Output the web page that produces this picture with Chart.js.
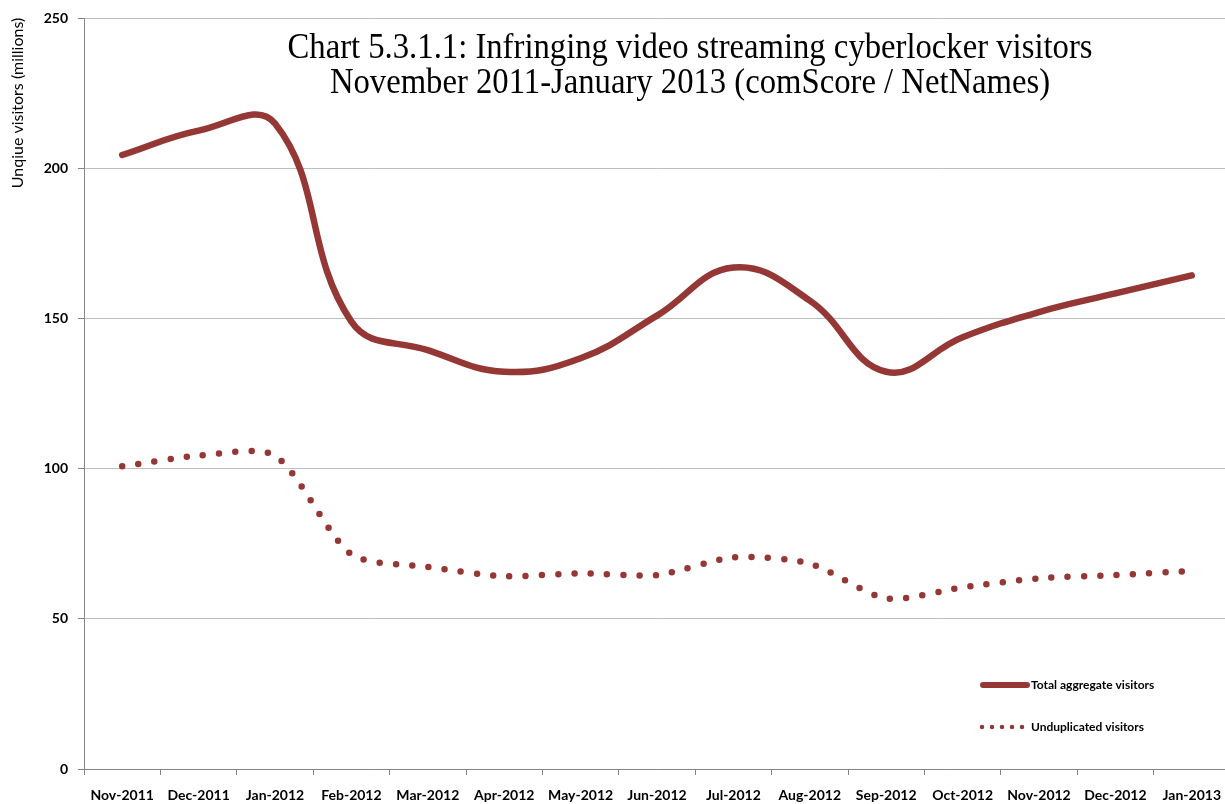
<!DOCTYPE html>
<html lang="en">
<head>
  <meta charset="UTF-8" />
  <title>Cyberlocker visitors</title>
  <script src="https://cdn.jsdelivr.net/npm/chart.js"></script>
  <style>
    html, body {
      margin: 0;
      padding: 0;
      background: #fff;
      overflow: hidden;
    }
    /* plot runs a few px past the right edge, as in the cropped original */
    #chartBox {
      width: 1225px;
      height: 804px;
      overflow: hidden;
    }
  </style>
</head>
<body>
  <div id="chartBox">
    <canvas id="visitorsChart" width="1230" height="804"></canvas>
  </div>

  <script>
    // data (millions)
    const months = ['Nov-2011', 'Dec-2011', 'Jan-2012', 'Feb-2012', 'Mar-2012', 'Apr-2012', 'May-2012',
      'Jun-2012', 'Jul-2012', 'Aug-2012', 'Sep-2012', 'Oct-2012', 'Nov-2012', 'Dec-2012', 'Jan-2013'];
    const totalVisitors = [204.5, 212.6, 215, 149, 139.5, 132.3, 136.8, 151, 167, 156, 132.3, 143.8, 152.2, 158.4, 164.4];
    const uniqueVisitors = [100.8, 104.4, 104.4, 71.5, 67.3, 64.2, 65.2, 64.6, 70.5, 68.4, 56.8, 60.5, 63.5, 64.6, 66];
    const seriesNames = ['Total aggregate visitors', 'Unduplicated visitors'];
    const yTicks = [0, 50, 100, 150, 200, 250];

    const titleLines = ['Chart 5.3.1.1: Infringing video streaming cyberlocker visitors',
      'November 2011-January 2013 (comScore / NetNames)'];
    const yTitle = 'Unqiue visitors (millions)';

    const lineColor = '#953735';

    // title, y title and legend are drawn by hand, like the Excel original
    const extrasPlugin = {
      id: 'extras',
      afterDraw(chart) {
        const ctx = chart.ctx;
        ctx.save();

        // title, condensed serif
        ctx.fillStyle = '#000';
        ctx.font = '36px "Liberation Serif"';
        ctx.textAlign = 'center';
        ctx.textBaseline = 'alphabetic';
        const w = ctx.measureText(titleLines[0]).width;
        const sx = 805 / w;
        ctx.save();
        ctx.translate(690, 0);
        ctx.scale(sx, 1);
        ctx.fillText(titleLines[0], 0, 58);
        ctx.fillText(titleLines[1], 0, 93);
        ctx.restore();

        // y axis title
        ctx.save();
        ctx.translate(18, 103);
        ctx.rotate(-Math.PI / 2);
        ctx.font = '16px Lato';
        ctx.textAlign = 'center';
        ctx.textBaseline = 'middle';
        ctx.fillText(yTitle, 0, 0);
        ctx.restore();

        // legend
        ctx.strokeStyle = lineColor;
        ctx.lineCap = 'round';
        ctx.lineWidth = 6;
        ctx.beginPath();
        ctx.moveTo(983, 685);
        ctx.lineTo(1027, 685);
        ctx.stroke();

        ctx.lineWidth = 4.5;
        ctx.setLineDash([0, 10]);
        ctx.beginPath();
        ctx.moveTo(982, 727);
        ctx.lineTo(1023, 727);
        ctx.stroke();
        ctx.setLineDash([]);

        ctx.font = 'bold 12px Lato';
        ctx.textAlign = 'left';
        ctx.textBaseline = 'middle';
        ctx.fillText(seriesNames[0], 1031, 685);
        ctx.fillText(seriesNames[1], 1031, 727);

        ctx.restore();
      }
    };

    const ctx = document.getElementById('visitorsChart').getContext('2d');
    new Chart(ctx, {
      type: 'line',
      data: {
        labels: months,
        datasets: [
          {
            label: seriesNames[0],
            data: totalVisitors,
            borderColor: lineColor,
            borderWidth: 6.5,
            borderCapStyle: 'round',
            borderJoinStyle: 'round',
            tension: 0.42,
            pointRadius: 0,
            fill: false
          },
          {
            label: seriesNames[1],
            data: uniqueVisitors,
            borderColor: lineColor,
            borderWidth: 6.5,
            borderCapStyle: 'round',
            borderDash: [0, 16.3],
            tension: 0.25,
            pointRadius: 0,
            fill: false
          }
        ]
      },
      options: {
        responsive: false,
        animation: false,
        layout: { padding: { top: 18, right: 0, left: 0, bottom: 0 } },
        plugins: {
          legend: { display: false },
          title: { display: false },
          tooltip: { enabled: false }
        },
        scales: {
          x: {
            offset: true,
            grid: {
              offset: true,
              drawOnChartArea: false,
              drawTicks: true,
              tickLength: 6,
              tickColor: '#868686'
            },
            border: { color: '#868686', width: 1 },
            ticks: {
              autoSkip: false,
              maxRotation: 0,
              padding: 12,
              color: '#000',
              font: { family: 'Lato', size: 14, weight: 'bold' }
            },
            afterFit(scale) {
              scale.height = 35;
              scale.paddingLeft = 0;
              scale.paddingRight = 0;
            }
          },
          y: {
            min: 0,
            max: 250,
            afterBuildTicks(scale) { scale.ticks = yTicks.map(v => ({ value: v })); },
            grid: {
              color: '#bfbfbf',
              lineWidth: 1,
              tickLength: 6,
              tickColor: '#868686'
            },
            border: { color: '#868686', width: 1 },
            ticks: {
              padding: 10,
              color: '#000',
              font: { family: 'Lato', size: 14, weight: 'bold' }
            },
            afterFit(scale) { scale.width = 84; }
          }
        }
      },
      plugins: [extrasPlugin]
    });
  </script>
</body>
</html>
